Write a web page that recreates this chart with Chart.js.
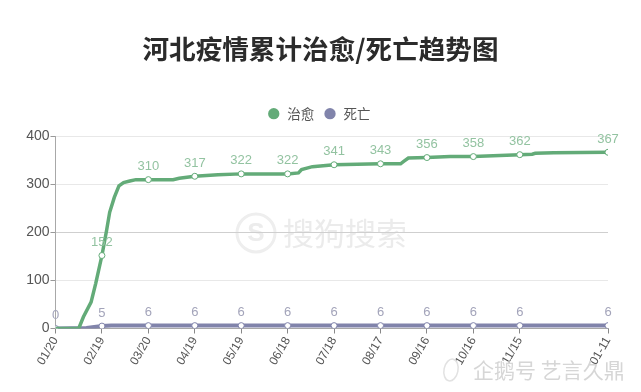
<!DOCTYPE html>
<html><head><meta charset="utf-8">
<style>html,body{margin:0;padding:0;background:#fff}#w{width:641px;height:392px}</style>
<script src="https://cdn.jsdelivr.net/npm/chart.js@4/dist/chart.umd.min.js"></script>
</head><body><div id="w"><canvas id="c" width="641" height="392"></canvas></div>
<script>
const tickDays   = [0,30,60,90,120,150,180,210,240,270,300,357];
const tickLabels = ['01/20','02/19','03/20','04/19','05/19','06/18','07/18','08/17','09/16','10/16','11/15','01-11'];
const curedDays  = [0,15,18,23,26,30,33,35,38,41,44,48,52,60,76,80,90,105,120,150,157,159,166,180,210,223,225,228,240,255,270,300,308,310,322,357];
const curedVals  = [0,0,24,55,94,152,204,242,273,297,304,307,310,310,310,313,317,320,322,322,324,331,337,341,343,343,348,355,356,358,358,362,363,365,366,367];
const deathDays  = [0,20,30,36,60,90,120,150,180,210,240,270,300,357];
const deathVals  = [0,1,5,6,6,6,6,6,6,6,6,6,6,6];
const curedMarks = [null,152,310,317,322,322,341,343,356,358,362,367];
const deathMarks = [0,5,6,6,6,6,6,6,6,6,6,6];
const yTicks = [0,100,200,300,400];
const GREEN='#63ab78', PURPLE='#8184ab';
const F='"Liberation Sans","Noto Sans CJK SC",sans-serif';
const CJK='"Noto Sans CJK SC",sans-serif';

const toXY=(ds,vs)=>ds.map((d,i)=>({x:d,y:vs[i]}));
const marksPlugin={
  id:'marks',
  afterLayout(c){
    c.titleBlock.left+=16.5; c.titleBlock.right+=16.5;
    c.legend.left+=14.75; c.legend.right+=14.75; c.legend.top-=6; c.legend.bottom-=6;
  },
  beforeDraw(c){
    const g=c.ctx; g.save();
    g.strokeStyle='#eeeeee'; g.lineWidth=3;
    g.beginPath(); g.arc(256,233,19,0,Math.PI*2); g.stroke();
    g.fillStyle='#ececec'; g.textAlign='center'; g.textBaseline='middle';
    g.font='bold 26px '+F; g.fillText('S',256,234);
    g.font='31px '+CJK; g.textAlign='left'; g.fillStyle='#ebebeb';
    g.fillText('搜狗搜索',283,233);
    g.restore();
  },
  afterDatasetsDraw(c){
    const g=c.ctx, X=c.scales.x, Y=c.scales.y;
    g.save(); g.textAlign='center'; g.textBaseline='middle'; g.font='13px '+F;
    tickDays.forEach((d,i)=>{
      if(curedMarks[i]!==null){ g.fillStyle='#93c3a1'; g.fillText(String(curedMarks[i]),X.getPixelForValue(d),Y.getPixelForValue(curedMarks[i])-13); }
      g.fillStyle='#a3a4ba'; g.fillText(String(deathMarks[i]),X.getPixelForValue(d),Y.getPixelForValue(deathMarks[i])-13);
    });
    g.fillStyle='#d6d6d6'; g.textAlign='left'; g.font='21px '+CJK;
    g.fillText('企鹅号 艺言久鼎',473,370);
    g.strokeStyle='#e2e2e2'; g.lineWidth=1.5;
    g.beginPath(); g.ellipse(451,370,7,11,0.2,0,Math.PI*2); g.stroke();
    g.restore();
  }
};
new Chart(document.getElementById('c'),{
  type:'line',
  data:{datasets:[
    {label:'治愈',data:toXY(curedDays,curedVals),borderColor:GREEN,backgroundColor:GREEN,borderWidth:3.5,tension:0,
     pointRadius:ctx=>tickDays.includes(ctx.raw.x)&&ctx.raw.x>0?3:0,pointBackgroundColor:'#fff',pointBorderColor:GREEN,pointBorderWidth:1},
    {label:'死亡',data:toXY(deathDays,deathVals),
     borderColor:PURPLE,backgroundColor:PURPLE,borderWidth:4,tension:0,
     pointRadius:ctx=>tickDays.includes(ctx.raw.x)?3:0,pointBackgroundColor:'#fff',pointBorderColor:PURPLE,pointBorderWidth:1}
  ]},
  options:{
    responsive:false,animation:false,
    layout:{padding:{left:0,right:33,top:0,bottom:0}},
    plugins:{
      title:{display:true,text:'河北疫情累计治愈/死亡趋势图',color:'#2b2b2b',font:{family:CJK,size:26.6,weight:'bold'},padding:{top:33,bottom:39}},
      legend:{position:'top',labels:{usePointStyle:true,pointStyle:'circle',boxWidth:13.5,boxHeight:8,padding:9,color:'#555',font:{family:CJK,size:13.5},
        generateLabels:c=>c.data.datasets.map((d,i)=>({text:d.label,fillStyle:d.borderColor,strokeStyle:d.borderColor,lineWidth:0,pointStyle:'circle',datasetIndex:i,fontColor:'#555'}))}},
      tooltip:{enabled:false}
    },
    scales:{
      x:{type:'linear',min:0,max:357,
        afterBuildTicks(a){a.ticks=tickDays.map(v=>({value:v}));},
        afterFit(a){a.height=63.5;},
        border:{color:'#a8a8a8'},
        grid:{display:true,drawOnChartArea:false,drawTicks:true,tickLength:5,color:'#888'},
        ticks:{autoSkip:false,maxRotation:60,minRotation:60,color:'#555',font:{family:F,size:12},padding:1,
          callback:v=>tickLabels[tickDays.indexOf(v)]}},
      y:{min:0,max:400,
        afterBuildTicks(a){a.ticks=yTicks.map(v=>({value:v}));},
        afterFit(a){a.width=55.5;},
        border:{color:'#a8a8a8'},
        grid:{color:ctx=>ctx.tick&&ctx.tick.value===200?'#cfcfcf':'#e8e8e8',tickColor:'#999',tickLength:5},
        ticks:{color:'#555',font:{family:F,size:14},padding:1}}
    }
  },
  plugins:[marksPlugin]
});
</script></body></html>
